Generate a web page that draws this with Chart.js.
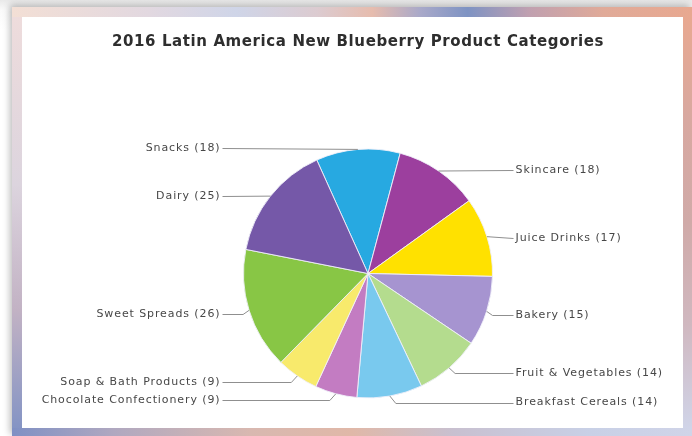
<!DOCTYPE html>
<html>
<head>
<meta charset="utf-8">
<script src="https://cdn.jsdelivr.net/npm/chart.js@4/dist/chart.umd.min.js"></script>
<style>
  html, body { margin: 0; padding: 0; }
  body {
    width: 692px; height: 436px; overflow: hidden; position: relative;
    background: linear-gradient(180deg, #e9e9e9 0px, #fafafa 10px, #ffffff 30px);
  }
  .frame {
    position: absolute; left: 12px; top: 7px; width: 680px; height: 429px;
    box-shadow: -2px -2px 7px rgba(0, 0, 0, 0.28);
  }
  .strip { position: absolute; }
  .top {
    left: 0; top: 0; width: 680px; height: 10px;
    background: linear-gradient(90deg, #f3dfd5 0%, #e2d8e0 20%, #cfd5e8 33%, #dccbd0 45%, #e6bcae 53%,
      #a9a9c9 60%, #7e93c3 67%, #c0a0b0 76%, #e0aa98 87%, #e8a890 100%);
  }
  .left {
    left: 0; top: 10px; width: 10px; height: 419px;
    background: linear-gradient(180deg, #eedcdc 0%, #dcd4de 40%, #c2b2c4 70%, #8092c4 100%);
  }
  .bottom {
    left: 0; top: 421px; width: 680px; height: 8px;
    background: linear-gradient(90deg, #7f90c4 0%, #b0a8c0 15%, #d8b8b0 35%, #e0b8a8 50%, #c8c0d0 65%,
      #c8d0e6 85%, #d0d4e8 100%);
  }
  .right {
    left: 671px; top: 10px; width: 9px; height: 411px;
    background: linear-gradient(180deg, #e8a890 0%, #d8a8a0 25%, #d0aaa8 50%, #d0b8c0 75%, #d0d4e8 100%);
  }
  .panel {
    position: absolute; left: 10px; top: 10px; width: 661px; height: 411px; background: #ffffff;
  }
</style>
</head>
<body>
<div class="frame">
  <div class="strip top"></div>
  <div class="strip left"></div>
  <div class="strip bottom"></div>
  <div class="strip right"></div>
  <div class="panel"><canvas id="pie"></canvas></div>
</div>
<script>
const chartTitle = '2016 Latin America New Blueberry Product Categories';
const categories = [
  'Snacks', 'Skincare', 'Juice Drinks', 'Bakery', 'Fruit & Vegetables',
  'Breakfast Cereals', 'Chocolate Confectionery', 'Soap & Bath Products', 'Sweet Spreads', 'Dairy'
];
const counts = [18, 18, 17, 15, 14, 14, 9, 9, 26, 25];
const sliceColors = [
  '#27a9e1', '#9c3f9e', '#ffe100', '#a694d0', '#b4dc8e',
  '#79c9ee', '#c37cc2', '#f8ea6c', '#88c645', '#7558a8'
];

// labels outside the pie with leader lines, plus the title
const calloutLabels = {
  id: 'calloutLabels',
  afterDatasetsDraw(chart) {
    const ctx = chart.ctx;
    const arcs = chart.getDatasetMeta(0).data;

    ctx.save();
    ctx.fillStyle = '#2e2e2e';
    ctx.font = 'bold 15px "DejaVu Sans"';
    ctx.letterSpacing = '0.6px';
    ctx.textAlign = 'center';
    ctx.textBaseline = 'middle';
    ctx.fillText(chartTitle, 336, 25);

    const items = arcs.map((arc, i) => {
      const { x, y, startAngle, endAngle, outerRadius } = arc.getProps(['x', 'y', 'startAngle', 'endAngle', 'outerRadius'], true);
      const mid = (startAngle + endAngle) / 2;
      const right = Math.cos(mid) >= 0;
      return {
        text: categories[i] + ' (' + counts[i] + ')',
        cx: x, r: outerRadius, right,
        ex: x + Math.cos(mid) * outerRadius,
        ey: y + Math.sin(mid) * outerRadius,
        ly: y + Math.sin(mid) * (outerRadius + 4) + 2.5
      };
    });

    // push overlapping labels apart on each side
    [true, false].forEach(side => {
      const group = items.filter(it => it.right === side).sort((a, b) => a.ly - b.ly);
      for (let k = 1; k < group.length; k++) {
        if (group[k].ly - group[k - 1].ly < 17) group[k].ly = group[k - 1].ly + 17;
      }
    });

    ctx.font = '11px "DejaVu Sans"';
    ctx.letterSpacing = '0.9px';
    ctx.textBaseline = 'middle';
    items.forEach(it => {
      const dir = it.right ? 1 : -1;
      const lineEnd = it.cx + dir * (it.r + 21);
      ctx.strokeStyle = '#8f8f8f';
      ctx.lineWidth = 1;
      ctx.beginPath();
      ctx.moveTo(it.ex, it.ey);
      const ly = Math.round(it.ly) + 0.5;
      if (Math.abs(it.ly - it.ey) > 1.5) ctx.lineTo(it.ex + dir * 6, ly);
      ctx.lineTo(lineEnd, ly);
      ctx.stroke();

      ctx.fillStyle = '#474747';
      ctx.textAlign = it.right ? 'left' : 'right';
      ctx.fillText(it.text, lineEnd + dir * 2, it.ly);
    });
    ctx.restore();
  }
};

new Chart(document.getElementById('pie'), {
  type: 'pie',
  data: {
    labels: categories,
    datasets: [{
      data: counts,
      backgroundColor: sliceColors,
      borderColor: 'rgba(240, 240, 250, 0.9)',
      borderWidth: 1,
      hoverOffset: 0
    }]
  },
  options: {
    responsive: true,
    maintainAspectRatio: false,
    animation: false,
    events: [],
    rotation: -24.3,
    layout: { padding: { left: 221, right: 190, top: 131.5, bottom: 29.5 } },
    plugins: {
      legend: { display: false },
      title: { display: false },
      tooltip: { enabled: false }
    }
  },
  plugins: [calloutLabels]
});
</script>
</body>
</html>
